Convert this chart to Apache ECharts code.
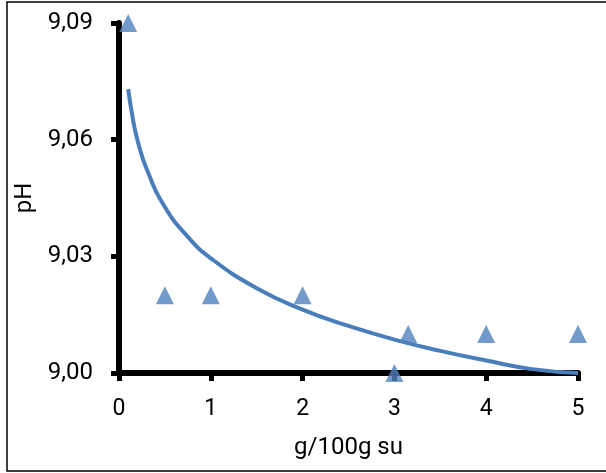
<!DOCTYPE html>
<html>
<head>
<meta charset="utf-8">
<script src="https://cdn.jsdelivr.net/npm/echarts@6/dist/echarts.min.js"></script>
<style>html,body{margin:0;padding:0;background:#fff;}#c{width:606px;height:473px;}</style>
</head>
<body>
<div id="c"></div>
<script>
// measured points
var xValues = [0.1, 0.5, 1, 2, 3, 3.15, 4, 5];
var yValues = [9.09, 9.02, 9.02, 9.02, 9.00, 9.01, 9.01, 9.01];
// trend line
var trendX = [0.1, 0.15, 0.2, 0.3, 0.5, 0.75, 1, 1.5, 2, 2.5, 3, 3.5, 4, 4.5, 5];
var trendY = [9.073, 9.0655, 9.060, 9.0525, 9.0427, 9.035, 9.0295, 9.0218, 9.0163, 9.0121, 9.0086, 9.0057, 9.0032, 9.001, 9.000];
var xTicks = [0, 1, 2, 3, 4, 5];
var yTicks = [9.00, 9.03, 9.06, 9.09];
var xTitle = 'g/100g su';
var yTitle = 'pH';

var pts = xValues.map(function (x, i) { return [x, yValues[i]]; });
var trend = trendX.map(function (x, i) { return [x, trendY[i]]; });
var FONT = 'Roboto';
var chart = echarts.init(document.getElementById('c'));
chart.setOption({
  animation: false,
  backgroundColor: '#fff',
  grid: { left: 119, right: 28, top: 23, bottom: 100, containLabel: false },
  graphic: [{
    type: 'rect', shape: { x: 7, y: 2, width: 610, height: 469 },
    style: { fill: 'none', stroke: '#000', lineWidth: 1.5 }, z: -1
  }],
  xAxis: {
    type: 'value', min: 0, max: 5, interval: 1,
    name: xTitle, nameLocation: 'middle', nameGap: 63,
    nameTextStyle: { fontFamily: FONT, fontSize: 24, color: '#000' },
    axisLine: { onZero: false, lineStyle: { color: '#000', width: 6 } },
    axisTick: { show: true, length: 8, lineStyle: { color: '#000', width: 5 } },
    axisLabel: { fontFamily: FONT, fontSize: 23, color: '#000', margin: 25,
      formatter: function (v) { return xTicks.indexOf(v) >= 0 ? String(v) : ''; } },
    splitLine: { show: false }
  },
  yAxis: {
    type: 'value', min: 9.00, max: 9.09, interval: 0.03,
    name: yTitle, nameLocation: 'middle', nameGap: 77, nameRotate: 90,
    nameTextStyle: { fontFamily: FONT, fontSize: 24, color: '#000' },
    axisLine: { onZero: false, lineStyle: { color: '#000', width: 6 } },
    axisTick: { show: true, length: 8, lineStyle: { color: '#000', width: 5 } },
    axisLabel: { fontFamily: FONT, fontSize: 24, color: '#000', margin: 26,
      formatter: function (v) {
        for (var i = 0; i < yTicks.length; i++) if (Math.abs(yTicks[i] - v) < 1e-6) return yTicks[i].toFixed(2).replace('.', ',');
        return '';
      } },
    splitLine: { show: false }
  },
  series: [{
    type: 'line', data: trend, smooth: true, showSymbol: false, symbol: 'none',
    lineStyle: { color: '#4A7EBB', width: 4 }, z: 3, clip: false
  }, {
    type: 'scatter', data: pts, symbol: 'triangle', symbolSize: [18, 18],
    itemStyle: { color: '#4F81BD' }, z: 4, clip: false
  }]
});
</script>
</body>
</html>
